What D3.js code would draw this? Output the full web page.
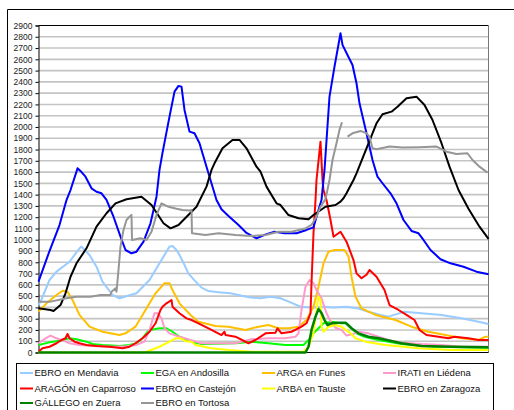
<!DOCTYPE html>
<html><head><meta charset="utf-8">
<script src="https://cdn.jsdelivr.net/npm/d3@7"></script>
<style>body{margin:0;background:#fff}svg{display:block}</style>
</head><body>
<svg id="c" width="514" height="410"></svg>
<script>
// ---- data: [day, value] pairs ----
const mendavia = [[0,420],[3,470],[11,643],[18,717],[31,805],[41,924],[43,939],[51,865],[58,761],[64,628],[74,510],[81,481],[98,525],[111,643],[121,791],[131,939],[134,945],[138,909],[141,865],[146,776],[150,700],[156,640],[163,575],[170,545],[180,535],[192,525],[210,490],[222,481],[232,495],[242,481],[252,445],[262,406],[275,400],[285,406],[295,400],[308,406],[320,390],[330,362],[342,333],[350,318],[358,340],[366,362],[383,348],[403,333],[423,303],[440,273],[450,253]];
const ega = [[0,67],[11,90],[21,105],[31,126],[38,117],[48,96],[54,75],[64,67],[81,58],[91,67],[98,82],[104,126],[109,184],[111,200],[121,215],[128,215],[134,184],[141,140],[153,96],[163,75],[197,82],[213,96],[230,82],[247,67],[265,67],[270,111],[275,170],[280,215],[285,259],[293,273],[302,259],[308,259],[313,215],[318,170],[326,140],[340,111],[363,75],[397,51],[450,43]];
const arga = [[0,362],[8,436],[18,510],[24,548],[29,539],[34,466],[41,333],[51,229],[64,184],[81,155],[87,170],[97,229],[107,377],[117,525],[126,614],[131,614],[134,554],[141,436],[152,333],[160,273],[177,235],[190,229],[207,200],[220,229],[230,244],[240,215],[250,215],[260,229],[268,288],[275,406],[280,584],[285,791],[290,894],[296,909],[306,909],[310,850],[313,672],[317,495],[323,392],[337,333],[357,288],[373,229],[390,184],[407,155],[423,126],[440,111],[447,140],[450,140]];
const irati = [[0,82],[7,126],[12,150],[18,126],[25,105],[31,82],[41,67],[54,58],[74,51],[88,55],[98,67],[106,96],[111,200],[113,259],[116,348],[119,348],[123,303],[126,215],[131,170],[141,140],[152,111],[163,82],[197,82],[213,117],[230,126],[247,126],[257,140],[260,170],[263,377],[267,584],[271,643],[275,614],[278,554],[283,480],[288,348],[293,259],[297,220],[303,200],[308,150],[315,165],[320,184],[330,170],[340,140],[350,111],[363,87],[383,75],[403,67],[423,51],[450,51]];
const aragon = [[0,7],[4,37],[11,51],[18,82],[23,111],[27,126],[29,164],[31,126],[36,96],[41,82],[48,67],[58,58],[71,51],[84,37],[91,51],[97,82],[104,126],[111,184],[117,259],[122,377],[124,406],[128,436],[133,466],[134,406],[141,348],[148,303],[153,288],[160,259],[173,200],[183,155],[186,184],[187,155],[197,140],[210,82],[217,111],[227,170],[237,176],[239,215],[243,170],[253,184],[263,229],[268,259],[272,348],[273,614],[275,1057],[277,1352],[278,1530],[282,1870],[284,1530],[285,1441],[288,1352],[292,1175],[295,1027],[302,1071],[308,983],[315,820],[318,702],[323,658],[328,690],[331,732],[338,672],[346,554],[351,421],[360,377],[368,333],[376,288],[381,200],[388,155],[400,140],[410,126],[416,140],[430,126],[440,111],[450,111]];
const castejon = [[0,628],[11,900],[21,1130],[28,1352],[32,1441],[38,1604],[39,1634],[43,1600],[47,1559],[53,1456],[58,1426],[63,1412],[68,1353],[75,1204],[82,1027],[87,909],[93,880],[98,894],[105,983],[112,1146],[118,1382],[121,1619],[124,1770],[131,2092],[136,2313],[140,2364],[143,2358],[146,2151],[151,1959],[156,1944],[161,1856],[168,1648],[175,1441],[178,1352],[183,1270],[190,1210],[200,1130],[208,1060],[218,1013],[228,1050],[236,1071],[246,1057],[258,1057],[268,1087],[275,1110],[280,1264],[283,1352],[286,1619],[291,2269],[296,2535],[299,2683],[302,2831],[304,2728],[309,2639],[314,2550],[318,2388],[321,2210],[328,1944],[334,1707],[339,1559],[344,1501],[352,1412],[358,1323],[365,1175],[373,1078],[380,1057],[385,998],[392,909],[402,827],[412,791],[425,761],[438,717],[450,694]];
const arba = [[0,0],[105,0],[108,7],[121,51],[131,96],[137,126],[142,126],[147,100],[153,96],[157,67],[173,37],[190,22],[213,7],[265,7],[270,51],[275,170],[278,377],[280,495],[282,466],[283,229],[285,184],[290,229],[297,244],[303,229],[312,170],[317,126],[327,96],[347,67],[380,37],[413,22],[450,22]];
const zaragoza = [[0,392],[12,377],[15,368],[22,421],[27,525],[32,672],[38,791],[48,924],[58,1116],[68,1235],[77,1323],[88,1359],[103,1382],[113,1308],[125,1146],[132,1101],[140,1131],[158,1293],[168,1471],[173,1619],[176,1678],[184,1811],[194,1885],[201,1885],[208,1811],[218,1648],[222,1604],[228,1471],[238,1323],[242,1308],[250,1219],[260,1190],[270,1181],[275,1219],[287,1293],[297,1308],[302,1338],[305,1368],[308,1412],[315,1530],[318,1589],[328,1811],[338,2033],[344,2113],[353,2136],[359,2180],[368,2255],[378,2269],[386,2195],[394,2062],[403,1856],[411,1648],[420,1441],[430,1275],[441,1116],[450,1007]];
const gallego = [[0,0],[267,0],[270,51],[273,200],[277,318],[280,385],[283,350],[286,288],[289,244],[293,259],[300,264],[307,264],[313,215],[320,170],[330,140],[340,126],[363,82],[383,58],[413,51],[450,46]];
const tortosa = [[0,451],[12,451],[28,481],[38,495],[52,495],[62,510],[72,510],[73,539],[77,569],[78,539],[80,732],[82,939],[85,1087],[88,1175],[91,1204],[93,1220],[93.5,998],[102,1013],[108,998],[113,1071],[118,1220],[123,1323],[130,1292],[138,1275],[144,1264],[151,1260],[153,1264],[153.5,1057],[167,1042],[180,1057],[197,1042],[213,1033],[227,1042],[240,1071],[253,1071],[267,1101],[273,1131],[278,1204],[282,1293],[287,1360],[291,1530],[294,1707],[298,1856],[301,1974],[303.5,2042],[306,null],[309,1914],[314,1944],[322,1965],[328,1944],[331,1914],[334,1811],[338,1802],[351,1826],[364,1817],[381,1820],[398,1826],[408,1781],[418,1761],[429,1767],[434,1707],[441,1648],[449,1595]];

const seriesNames = ["EBRO en Mendavia","EGA en Andosilla","ARGA en Funes","IRATI en Liédena","ARAGÓN en Caparroso","EBRO en Castejón","ARBA en Tauste","EBRO en Zaragoza","GÁLLEGO en Zuera","EBRO en Tortosa"];
const seriesData = [mendavia, ega, arga, irati, aragon, castejon, arba, zaragoza, gallego, tortosa];
const seriesColors = ["#99ccff","#00ff00","#ffc000","#ff99cc","#ff0000","#0000ff","#ffff00","#000000","#008000","#969696"];
const yTicks = d3.range(0, 3000, 100);

// ---- drawing ----
const svg = d3.select("#c");
const L = 38.5, R = 488.5, T = 25.5, B = 352.5;
const x = d3.scaleLinear().domain([0, 450]).range([L, R]);
const y = d3.scaleLinear().domain([0, 2900]).range([B, T]);

// outer chart frame
svg.append("path").attr("d", "M7.5,420V9.5H530").attr("fill","none").attr("stroke","#000").attr("stroke-width",1);

// gridlines
svg.append("g").selectAll("line").data(yTicks.filter(d => d > 0 && d < 2900)).join("line")
  .attr("x1", L).attr("x2", R).attr("y1", d => y(d)).attr("y2", d => y(d))
  .attr("stroke", "#c4c4c4").attr("stroke-width", 1.6);

// plot border top/right
svg.append("line").attr("x1", L).attr("x2", R).attr("y1", T).attr("y2", T).attr("stroke", "#000");
svg.append("line").attr("x1", R).attr("x2", R).attr("y1", T).attr("y2", B).attr("stroke", "#777");

// y axis
const yAxis = svg.append("g").attr("transform", `translate(${L},0)`)
  .call(d3.axisLeft(y).tickValues(yTicks).tickSize(3).tickPadding(3).tickFormat(d3.format("d")));
yAxis.select(".domain").attr("stroke", "#000");
yAxis.selectAll(".tick line").attr("stroke", "#000");
yAxis.selectAll("text").attr("font-family", "Liberation Sans, Arial, sans-serif").attr("font-size", 8.5).attr("fill", "#222");

// x axis line
svg.append("line").attr("x1", L).attr("x2", R).attr("y1", B).attr("y2", B).attr("stroke", "#000");

// series
const line = d3.line().defined(d => d[1] !== null).x(d => x(d[0])).y(d => y(d[1]));
const plot = svg.append("g");
seriesData.forEach((s, i) => {
  plot.append("path").datum(s).attr("d", line).attr("fill", "none")
    .attr("stroke", seriesColors[i]).attr("stroke-width", i === 8 ? 2.5 : 2)
    .attr("stroke-linejoin", "round");
});

// legend
svg.append("rect").attr("x", 16.5).attr("y", 363.5).attr("width", 477).attr("height", 70)
  .attr("fill", "#fff").attr("stroke", "#000");
const colX = [20, 141, 262, 383];
const rowY = [373, 388.5, 403];
const leg = svg.append("g");
seriesNames.forEach((n, i) => {
  const cx = colX[i % 4], cy = rowY[Math.floor(i / 4)];
  leg.append("line").attr("x1", cx).attr("x2", cx + 13).attr("y1", cy).attr("y2", cy)
    .attr("stroke", seriesColors[i]).attr("stroke-width", 2);
  leg.append("text").attr("x", cx + 14.5).attr("y", cy).attr("dy", "0.35em")
    .attr("font-family", "Liberation Sans, Arial, sans-serif").attr("font-size", 9.5).attr("fill", "#111")
    .text(n);
});
</script>
</body></html>
